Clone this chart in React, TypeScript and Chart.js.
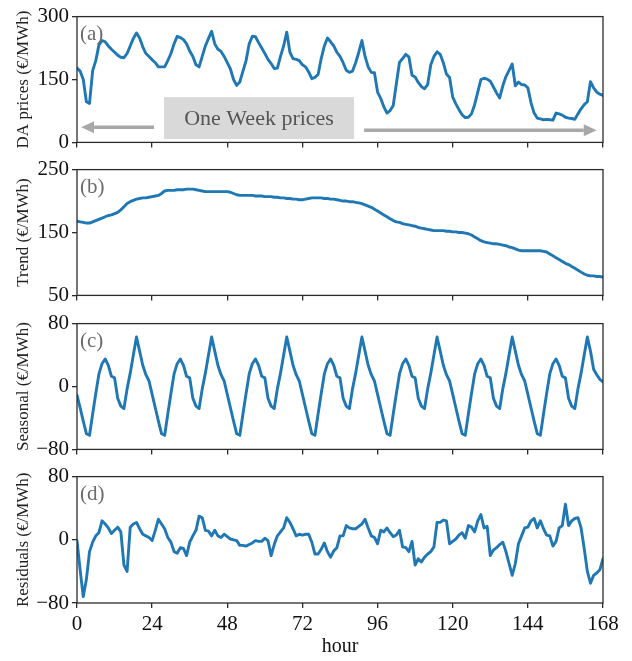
import React, { useEffect, useRef } from "react";
import { Chart, registerables } from "chart.js";

Chart.register(...registerables);

// ---- Data (hourly, hours 0..168) ----
const PRICES = [
  177, 170, 150, 97, 93, 171, 195, 232, 243, 240, 230, 222, 215, 208, 203, 202, 212, 230, 248, 261, 249, 228, 212, 205,
  197, 190, 180, 180, 180, 195, 212, 235, 253, 250, 245, 235, 218, 205, 185, 180, 205, 230, 248, 265, 235, 222, 217, 205,
  190, 175, 150, 136, 144, 170, 195, 235, 253, 252, 238, 225, 212, 198, 188, 176, 177, 205, 230, 263, 215, 200, 198, 195,
  185, 180, 168, 152, 155, 162, 200, 230, 249, 240, 230, 215, 205, 190, 172, 167, 170, 190, 215, 243, 205, 180, 167, 166,
  120, 105, 85, 70, 76, 88, 140, 191, 200, 210, 204, 160, 156, 143, 133, 128, 138, 185, 205, 216, 210, 190, 163, 155,
  108, 92, 78, 66, 59, 60, 68, 90, 120, 150, 153, 151, 146, 132, 118, 106, 135, 157, 172, 187, 135, 144, 138, 137,
  130, 95, 70, 58, 56, 54, 55, 54, 53, 70, 68, 65, 60, 58, 57, 55, 68, 80, 90, 97, 145, 130, 120, 115,
  112,
];

const TREND = [
  168, 167, 166, 165, 165, 167, 169, 171, 173, 175, 177, 178, 180, 182, 186, 191, 196, 199, 201, 203, 204, 205, 205, 206,
  207, 208, 209, 212, 216, 217, 217, 217, 218, 218, 218, 219, 219, 219, 218, 217, 216, 215, 215, 215, 215, 215, 215, 215,
  215, 214, 212, 210, 209, 209, 209, 209, 209, 208, 208, 208, 207, 207, 207, 206, 206, 205, 205, 204, 204, 203, 203, 202,
  202, 203, 204, 205, 205, 205, 205, 204, 204, 203, 203, 202, 201, 200, 200, 199, 199, 198, 197, 196, 194, 192, 190, 187,
  184, 181, 178, 175, 172, 169, 167, 166, 164, 163, 162, 161, 160, 158, 157, 156, 155, 154, 153, 153, 153, 153, 152, 152,
  151, 151, 150, 150, 149, 148, 146, 143, 140, 137, 135, 134, 133, 132, 132, 131, 130, 129, 127, 126, 124, 122, 121, 121,
  121, 121, 121, 121, 121, 120, 119, 116, 113, 110, 107, 104, 101, 99, 96, 93, 90, 87, 84, 82, 81, 81, 80, 80,
  79,
];

const SEASONAL = [
  -11, -27, -44, -60, -62, -35, -9, 16, 29, 35, 27, 13, 11, -15, -25, -28, -3, 17, 40, 63, 45, 27, 15, 7,
  -10, -27, -44, -60, -62, -35, -9, 16, 29, 35, 27, 13, 11, -15, -25, -28, -3, 17, 40, 63, 45, 27, 15, 7,
  -10, -27, -44, -60, -62, -35, -9, 16, 29, 35, 27, 13, 11, -15, -25, -28, -3, 17, 40, 63, 45, 27, 15, 7,
  -10, -27, -44, -60, -62, -35, -9, 16, 29, 35, 27, 13, 11, -15, -25, -28, -3, 17, 40, 63, 45, 27, 15, 7,
  -10, -27, -44, -60, -62, -35, -9, 16, 29, 35, 27, 13, 11, -15, -25, -28, -3, 17, 40, 63, 45, 27, 15, 7,
  -10, -27, -44, -60, -62, -35, -9, 16, 29, 35, 27, 13, 11, -15, -25, -28, -3, 17, 40, 63, 45, 27, 15, 7,
  -10, -27, -44, -60, -62, -35, -9, 16, 29, 35, 27, 13, 11, -15, -25, -28, -3, 17, 40, 63, 45, 22, 15, 9,
  6,
];

const RESIDUALS = [
  -1, -38, -72, -50, -15, -3, 5, 9, 24, 20, 15, 8, 12, 16, 10, -32, -40, 16, 20, 22, 14, 7, 5, 3,
  -1, 12, 26, 20, 14, 3, -3, -15, -17, -10, -11, -20, -3, 5, 12, 30, 28, 12, 11, 5, 12, 5, 3, 7,
  4, 1, 0, -1, -7, -7, -8, -6, -4, -1, -2, -2, 2, -1, -20, -6, 5, 10, 15, 28, 22, 14, 5, 7,
  6, 7, 7, -3, -18, -18, -12, -4, -15, -22, -14, -10, 5, 5, 18, 15, 14, 14, 17, 20, 26, 15, 5, 3,
  -5, 12, 10, 15, 9, 4, 6, 12, -9, -10, -15, -2, -32, -24, -28, -22, -18, -15, -9, 22, 22, 25, 24, -5,
  -2, 1, 6, 9, 2, 18, 16, 10, 24, 32, 15, 17, -20, -13, -10, -6, -3, -15, -30, -45, -30, -5, 5, 15,
  16, 24, 27, 15, 24, 14, 6, 5, -8, -2, 15, 18, 45, 18, 24, 27, 28, 15, -11, -40, -55, -45, -42, -38,
  -24,
];

const X_TICKS = [0, 24, 48, 72, 96, 120, 144, 168];
const PANEL_LABELS = ["(a)", "(b)", "(c)", "(d)"];
const Y_TITLES = ["DA prices (\u20AC/MWh)", "Trend (\u20AC/MWh)", "Seasonal (\u20AC/MWh)", "Residuals (\u20AC/MWh)"];
const Y_RANGES = [
  [0, 300, 150],
  [50, 250, 100],
  [-80, 80, 80],
  [-80, 80, 80],
];
const ANNOT_TEXT = "One Week prices";
// annotation in data coordinates of panel (a): [x0, x1, y0, y1]
const ANNOT_BOX = [27.8, 88.5, 8, 108];
const ARROW_LEFT = [24.6, 1.3, 36];
const ARROW_RIGHT = [91.7, 166, 29];

const SERIES = [PRICES, TREND, SEASONAL, RESIDUALS];

const FONT = "'Liberation Serif', 'Times New Roman', serif";
const LINE_COLOR = "#1f77b4";
const AXIS_COLOR = "#2b2b2b";

const PANEL_TOPS = [15, 168, 322, 475];
const PLOT_H = 128;
const PAD_TOP = 14;
const Y_AXIS_W = 77;
const RIGHT_PAD = 29;

function fmt(v: number) {
  return v < 0 ? "\u2212" + Math.abs(v) : String(v);
}

const framePlugin = {
  id: "frame",
  afterDraw(chart: any, _a: any, opts: any) {
    const { ctx, chartArea } = chart;
    ctx.save();
    ctx.strokeStyle = AXIS_COLOR;
    ctx.lineWidth = 1.3;
    ctx.strokeRect(chartArea.left, chartArea.top, chartArea.right - chartArea.left, chartArea.bottom - chartArea.top);
    ctx.fillStyle = "#6b6b6b";
    ctx.font = `21px ${FONT}`;
    ctx.textBaseline = "middle";
    ctx.textAlign = "left";
    ctx.fillText(opts.label, chartArea.left + 3, chartArea.top + 18);
    ctx.restore();
  },
};

const annotPlugin = {
  id: "annot",
  beforeDatasetsDraw(chart: any, _a: any, opts: any) {
    if (!opts.enabled) return;
    const { ctx } = chart;
    const xs = chart.scales.x;
    const ys = chart.scales.y;
    ctx.save();
    const bx0 = xs.getPixelForValue(ANNOT_BOX[0]);
    const bx1 = xs.getPixelForValue(ANNOT_BOX[1]);
    const by0 = ys.getPixelForValue(ANNOT_BOX[3]);
    const by1 = ys.getPixelForValue(ANNOT_BOX[2]);
    ctx.fillStyle = "#d9d9d9";
    ctx.fillRect(bx0, by0, bx1 - bx0, by1 - by0);
    ctx.fillStyle = "#555555";
    ctx.font = `22px ${FONT}`;
    ctx.textAlign = "center";
    ctx.textBaseline = "middle";
    ctx.fillText(ANNOT_TEXT, (bx0 + bx1) / 2, (by0 + by1) / 2 + 1);

    const drawArrow = (a: number[]) => {
      const x0 = xs.getPixelForValue(a[0]);
      const x1 = xs.getPixelForValue(a[1]);
      const y = ys.getPixelForValue(a[2]);
      const dir = Math.sign(x1 - x0);
      const headL = 13;
      const headW = 6;
      ctx.strokeStyle = "#a8a8a8";
      ctx.fillStyle = "#a8a8a8";
      ctx.lineWidth = 3.5;
      ctx.beginPath();
      ctx.moveTo(x0, y);
      ctx.lineTo(x1 - dir * headL, y);
      ctx.stroke();
      ctx.beginPath();
      ctx.moveTo(x1, y);
      ctx.lineTo(x1 - dir * headL, y - headW);
      ctx.lineTo(x1 - dir * headL, y + headW);
      ctx.closePath();
      ctx.fill();
    };
    drawArrow(ARROW_LEFT);
    drawArrow(ARROW_RIGHT);
    ctx.restore();
  },
};

function makeConfig(i: number, xAxisH: number): any {
  const data = SERIES[i];
  const [ymin, ymax, ystep] = Y_RANGES[i];
  const last = i === 3;
  return {
    type: "line",
    data: {
      datasets: [
        {
          data: data.map((v, h) => ({ x: h, y: v })),
          borderColor: LINE_COLOR,
          borderWidth: 2.9,
          pointRadius: 0,
          tension: 0,
          fill: false,
          borderJoinStyle: "round",
          borderCapStyle: "round",
        },
      ],
    },
    options: {
      animation: false,
      responsive: false,
      maintainAspectRatio: false,
      layout: { padding: { top: PAD_TOP, right: RIGHT_PAD, left: 0, bottom: 0 } },
      plugins: {
        legend: { display: false },
        tooltip: { enabled: false },
        frame: { label: PANEL_LABELS[i] },
        annot: { enabled: i === 0 },
      },
      scales: {
        x: {
          type: "linear",
          min: 0,
          max: 168,
          afterBuildTicks: (s: any) => {
            s.ticks = X_TICKS.map((v) => ({ value: v }));
          },
          afterFit: (s: any) => {
            s.height = xAxisH;
          },
          grid: { display: true, drawOnChartArea: false, drawTicks: true, tickLength: 5, tickColor: AXIS_COLOR, lineWidth: 1.3 },
          border: { display: false },
          ticks: {
            display: last,
            maxRotation: 0,
            autoSkip: false,
            padding: 4,
            color: "#111",
            font: { family: FONT, size: 21 },
          },
          title: {
            display: last,
            text: "hour",
            color: "#111",
            font: { family: FONT, size: 20 },
            padding: { top: 0, bottom: 2 },
          },
        },
        y: {
          min: ymin,
          max: ymax,
          afterBuildTicks: (s: any) => {
            const t: any[] = [];
            for (let v = ymin; v <= ymax; v += ystep) t.push({ value: v });
            s.ticks = t;
          },
          afterFit: (s: any) => {
            s.width = Y_AXIS_W;
          },
          grid: { display: true, drawOnChartArea: false, drawTicks: true, tickLength: 5, tickColor: AXIS_COLOR, lineWidth: 1.3 },
          border: { display: false },
          ticks: {
            padding: 3,
            color: "#111",
            font: { family: FONT, size: 21 },
            callback: (v: any) => fmt(Number(v)),
          },
          title: {
            display: true,
            text: Y_TITLES[i],
            color: "#222",
            font: { family: FONT, size: 17 },
            padding: { top: 13, bottom: 0 },
          },
        },
      },
    },
    plugins: [framePlugin, annotPlugin],
  };
}

export default function App() {
  const refs = [useRef<HTMLCanvasElement>(null), useRef<HTMLCanvasElement>(null), useRef<HTMLCanvasElement>(null), useRef<HTMLCanvasElement>(null)];
  const heights = PANEL_TOPS.map((t, i) => (i === 3 ? 661 - (t - PAD_TOP) : PAD_TOP + PLOT_H + 15));

  useEffect(() => {
    const charts = refs.map((r, i) => {
      const xAxisH = heights[i] - PAD_TOP - PLOT_H;
      return new Chart(r.current as HTMLCanvasElement, makeConfig(i, xAxisH));
    });
    return () => charts.forEach((c) => c.destroy());
  }, []);

  return (
    <div style={{ position: "absolute", left: 0, top: 0, width: 632, height: 661, background: "#fff" }}>
      {PANEL_TOPS.map((t, i) => (
        <div key={i} style={{ position: "absolute", left: 0, top: t - PAD_TOP, width: 632, height: heights[i] }}>
          <canvas ref={refs[i]} width={632} height={heights[i]} style={{ width: 632, height: heights[i] }} />
        </div>
      ))}
    </div>
  );
}
